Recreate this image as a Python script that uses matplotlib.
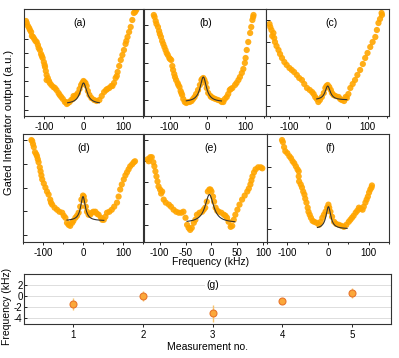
import numpy as np
import matplotlib
matplotlib.use('agg')
import matplotlib.pyplot as plt

plt.rcParams['font.family'] = ['Liberation Sans', 'DejaVu Sans']
plt.rcParams['axes.unicode_minus'] = False

# scan data: detuning (kHz) vs gated integrator output (a.u.)
freq_a = [-143, -135, -127, -118, -110, -103, -97, -93, -93, -81, -68, -56, -47, -39, -31, -22, -14, -6,
          2, 8, 15, 27, 40, 52, 65, 77, 86, 94, 102, 111, 119, 127,
          -145, -140, -137, -132, -130, -124, -121, -115, -113, -107, -105, -100, -98, -95, -90, -87,
          -85, -76, -72, -63, -60, -52, -44, -42, -35, -27, -25, -18, -10, -3, 0, 5, 11, 20, 33, 46,
          57, 60, 70, 73, 81, 84, 90, 98, 106, 108, 115, 123, 130, 133]
sig_a = [93, 86, 79, 74, 66, 58, 49, 41, 36, 31, 26, 19, 14, 13, 16, 19, 23, 31,
         34, 30, 21, 16, 16, 24, 28, 33, 44, 56, 66, 79, 89, 103,
         95, 90, 88, 84, 80, 77, 75, 71, 68, 62, 60, 54, 51, 45, 38, 35,
         33, 29, 28, 23, 21, 17, 14, 12, 14, 17, 20, 21, 27, 33, 35, 33, 25, 18, 15, 20,
         26, 27, 30, 30, 38, 40, 50, 61, 72, 75, 84, 96, 104, 106]

freq_b = [-140, -131, -123, -114, -105, -96, -91, -83, -74, -67, -60, -47, -34, -25, -16, -11, -5, 2,
          15, 28, 42, 51, 59, 73, 82, 91, 99, 104, 113, 119, 122,
          -142, -137, -135, -128, -126, -120, -117, -111, -108, -101, -99, -93, -88, -86, -79, -77,
          -71, -69, -64, -56, -52, -42, -38, -30, -20, -14, -8, -2, 8, 10, 21, 35, 38, 46, 55, 62,
          66, 77, 86, 95, 101, 108, 116, 121]
sig_b = [99, 89, 79, 69, 61, 56, 46, 36, 29, 21, 14, 14, 19, 26, 36, 38, 33, 23,
         18, 16, 14, 19, 26, 31, 36, 43, 53, 66, 83, 96, 101,
         101, 95, 92, 85, 82, 75, 72, 66, 63, 58, 57, 50, 42, 39, 33, 31,
         25, 23, 17, 13, 14, 15, 17, 22, 31, 37, 36, 28, 20, 19, 17, 15, 14, 17, 22, 27,
         28, 33, 39, 47, 58, 74, 89, 99]

freq_c = [-149, -141, -137, -128, -119, -107, -94, -81, -68, -55, -42, -34, -26, -17, -8, -2, 6, 13,
          26, 34, 47, 56, 68, 81, 94, 107, 120, 128, 137,
          -151, -146, -144, -139, -133, -124, -113, -100, -88, -75, -62, -48, -38, -30, -22, -12,
          -5, 2, 9, 18, 30, 40, 44, 51, 62, 74, 88, 100, 113, 124, 132, 136]
sig_c = [89, 83, 74, 66, 58, 51, 46, 41, 36, 28, 24, 19, 14, 19, 28, 31, 26, 21,
         19, 16, 18, 28, 36, 46, 58, 69, 79, 93, 101,
         92, 86, 80, 78, 70, 62, 54, 48, 44, 38, 32, 26, 22, 17, 16, 23,
         30, 29, 23, 20, 17, 15, 19, 22, 32, 41, 52, 63, 74, 86, 97, 103]

freq_d = [-127, -123, -115, -111, -106, -102, -94, -86, -77, -65, -52, -44, -36, -27, -19, -11, -4, 2,
          7, 14, 22, 31, 39, 52, 60, 72, 85, 93, 102, 110, 118, 127,
          -129, -125, -120, -117, -113, -108, -104, -98, -90, -82, -80, -71, -59, -48, -40, -32,
          -24, -15, -7, 0, 4, 10, 18, 26, 35, 45, 48, 56, 66, 78, 89, 97, 106, 114, 123, 130]
sig_d = [100, 94, 85, 79, 70, 62, 54, 47, 37, 32, 29, 24, 17, 19, 24, 29, 42, 45,
         35, 27, 29, 30, 27, 22, 29, 32, 39, 52, 62, 69, 75, 79,
         101, 97, 89, 87, 82, 74, 66, 58, 50, 42, 39, 34, 30, 26, 19, 16,
         21, 26, 35, 46, 41, 30, 27, 30, 28, 24, 22, 25, 30, 35, 45, 57, 66, 72, 77, 80]

freq_e = [-121, -115, -110, -106, -102, -95, -92, -82, -73, -63, -54, -47, -41, -34, -28, -18, -12, -7,
          -2, 3, 8, 14, 24, 30, 37, 43, 50, 59, 69, 75, 79, 85, 95,
          -123, -118, -112, -108, -104, -99, -97, -88, -78, -68, -58, -50, -44, -38, -31, -23,
          -15, -9, -4, 0, 5, 11, 19, 27, 33, 40, 46, 54, 64, 72, 77, 82, 90, 98]
sig_e = [80, 84, 75, 65, 55, 50, 42, 37, 32, 29, 30, 17, 12, 19, 27, 30, 34, 50,
         52, 45, 34, 30, 27, 24, 15, 22, 32, 42, 50, 57, 65, 72, 74,
         82, 84, 79, 70, 60, 52, 48, 39, 35, 30, 29, 24, 14, 14, 22, 29,
         32, 40, 52, 50, 40, 31, 29, 26, 20, 16, 27, 37, 46, 53, 61, 69, 74, 73]

freq_f = [-111, -105, -95, -87, -79, -72, -71, -64, -58, -53, -48, -42, -34, -22, -14, -6, 1, 6,
          15, 27, 39, 51, 59, 68, 76, 85, 92, 98, 104, 107,
          -113, -108, -100, -91, -83, -75, -72, -67, -61, -56, -50, -45, -38, -28, -18, -10,
          -2, 3, 10, 20, 33, 45, 55, 63, 72, 80, 88, 95, 101, 108]
sig_f = [99, 90, 85, 80, 75, 70, 60, 54, 47, 39, 30, 24, 20, 17, 24, 30, 37, 30,
         20, 17, 15, 20, 24, 29, 34, 32, 39, 45, 52, 54,
         101, 94, 88, 83, 78, 72, 65, 57, 50, 43, 34, 27, 21, 19, 20, 27,
         34, 34, 25, 18, 16, 17, 22, 26, 31, 33, 35, 42, 49, 56]

# Lorentzian fit parameters: centre, HWHM, amplitude, offset, fit range
fit_a = (0, 10, 21, 12, -40, 40)
fit_b = (-11, 10, 25, 14, -56, 37)
fit_c = (-2, 8, 14, 16, -30, 47)
fit_d = (0, 7, 24, 21, -40, 52)
fit_e = (-4, 10, 28, 19, -47, 45)
fit_f = (1, 7, 22, 13, -26, 47)

# panel (g): fitted centre frequency per measurement
meas_no = [1, 2, 3, 4, 5]
centre = [-1.45, 0.05, -3.1, -0.85, 0.6]
centre_err = [1.05, 0.85, 1.45, 0.3, 0.85]

panels = [
    ('(a)', freq_a, sig_a, fit_a, (-150, 145), [6, 20.3, 34.6, 48.9, 63.2, 77.5, 91.8], 0.47),
    ('(b)', freq_b, sig_b, fit_b, (-168, 155), [16, 35, 53.3, 72.7, 91], 0.51),
    ('(c)', freq_c, sig_c, fit_c, (-160, 155), [10, 31, 52.7, 74.3, 96], 0.53),
    ('(d)', freq_d, sig_d, fit_d, (-150, 150), [7, 30.3, 53.7, 77.7, 101.3], 0.51),
    ('(e)', freq_e, sig_e, fit_e, (-130, 107), [17, 38, 59.3, 80.3, 101.3], 0.54),
    ('(f)', freq_f, sig_f, fit_f, (-148, 150), [13, 33.7, 54.3, 74.7, 95.3], 0.52),
]

W, H = 399, 358
boxes = [(24, 9, 143, 116), (144, 9, 266, 116), (266, 9, 389, 116),
         (23, 134, 143, 242), (144, 134, 267, 242), (267, 134, 389, 242)]

fig = plt.figure(figsize=(W / 100, H / 100), dpi=100)

for (label, fx, sy, fit, xl, yt, lx), (x0, y0, x1, y1) in zip(panels, boxes):
    ax = fig.add_axes([x0 / W, 1 - y1 / H, (x1 - x0) / W, (y1 - y0) / H])
    ax.scatter(fx, sy, s=20, color='#FFA500', edgecolors='none', alpha=0.9, zorder=2)
    c, g, a, b, lo, hi = fit
    xf = np.linspace(lo, hi, 200)
    ax.plot(xf, b + a / (1 + ((xf - c) / g) ** 2), color='#333333', lw=0.8, zorder=3)
    ax.set_xlim(*xl)
    ax.set_ylim(0, 107)
    ax.set_yticks(yt)
    ax.set_yticklabels([])
    ax.tick_params(axis='y', direction='in', length=3, width=0.6)
    ax.tick_params(axis='x', direction='out', length=2.5, width=0.6, labelsize=7, pad=1.5)
    if label == '(e)':
        ax.set_xticks([-100, -50, 0, 50, 100])
        ax.set_xticklabels(['-100', '-50', '0', '50', '100'])
    else:
        ax.set_xticks([-100, 0, 100])
        ax.set_xticks([-150, -50, 50, 150], minor=True)
        ax.tick_params(axis='x', which='minor', direction='out', length=1.5, width=0.6)
    for sp in ax.spines.values():
        sp.set_linewidth(0.8)
        sp.set_color('#333333')
    ax.text(lx, 0.87, label, transform=ax.transAxes, ha='center', va='center', fontsize=7.5)

fig.text(9 / W, 1 - 122 / H, 'Gated Integrator output (a.u.)', rotation=90,
         ha='center', va='center', fontsize=8)
fig.text(211 / W, 1 - 262 / H, 'Frequency (kHz)', ha='center', va='center', fontsize=7.5)

# panel (g)
axg = fig.add_axes([24 / W, 1 - 324 / H, (391 - 24) / W, (324 - 274) / H])
axg.set_axisbelow(True)
axg.grid(axis='y', color='#dddddd', lw=0.7)
axg.errorbar(meas_no, centre, yerr=centre_err, fmt='o', color='#F7C36E', ecolor='#F7C36E',
             elinewidth=1.0, capsize=0, ms=5, mfc='#FBA83A', mec='#E8742A', mew=0.8, zorder=3)
axg.set_xlim(0.29, 5.56)
axg.set_ylim(-5.0, 4.0)
axg.set_yticks([-4, -2, 0, 2])
axg.set_xticks(meas_no)
axg.tick_params(axis='x', direction='out', length=2.5, width=0.6, labelsize=7, pad=1.5)
axg.tick_params(axis='y', direction='in', length=2.5, width=0.6, labelsize=7, pad=1)
for sp in axg.spines.values():
    sp.set_linewidth(0.8)
    sp.set_color('#333333')
axg.text(3, 2.1, '(g)', ha='center', va='center', fontsize=7.5,
         bbox=dict(facecolor='white', edgecolor='none', pad=1.0))
axg.set_xlabel('Measurement no.', fontsize=7.5, labelpad=2)
fig.text(7.5 / W, 1 - 306 / H, 'Frequency (kHz)', rotation=90, ha='center', va='center',
         fontsize=7.5)

fig.savefig('out.png', dpi=100)
